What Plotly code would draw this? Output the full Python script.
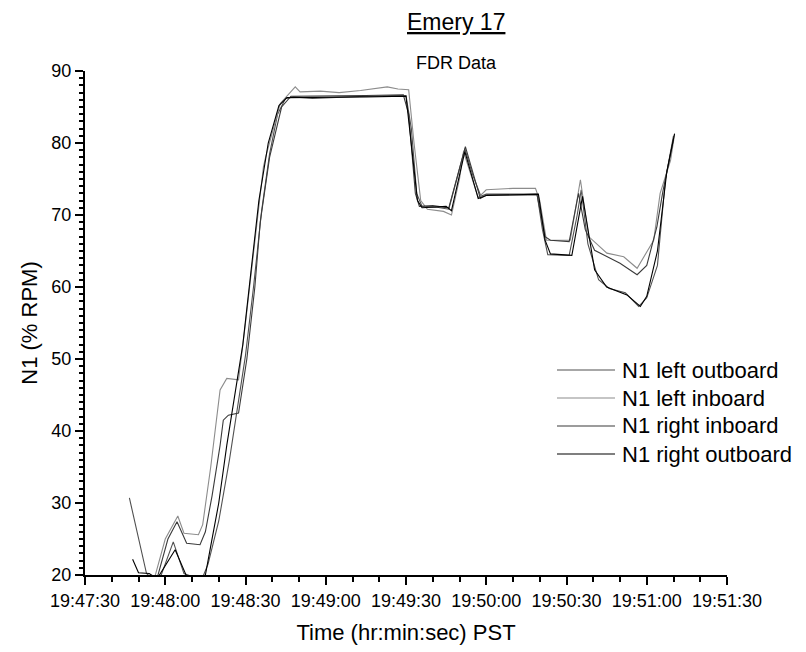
import plotly.graph_objects as go

DAY = "2009-01-01 "

names = ["N1 left outboard", "N1 left inboard", "N1 right inboard", "N1 right outboard"]
colors = ["#505050", "#8c8c8c", "#3a3a3a", "#000000"]

t_lo = ["19:47:46.6", "19:47:53", "19:47:55", "19:47:58", "19:48:03", "19:48:07", "19:48:10", "19:48:14",
        "19:48:16", "19:48:20", "19:48:24", "19:48:27", "19:48:30", "19:48:33", "19:48:36", "19:48:39",
        "19:48:42", "19:48:45", "19:48:48", "19:48:55", "19:49:05", "19:49:15", "19:49:25", "19:49:30",
        "19:49:32", "19:49:34", "19:49:36", "19:49:41", "19:49:46", "19:49:49", "19:49:52", "19:49:55",
        "19:49:58", "19:50:00", "19:50:10", "19:50:19", "19:50:21", "19:50:23", "19:50:31", "19:50:34",
        "19:50:35.5", "19:50:38", "19:50:42", "19:50:46", "19:50:52", "19:50:57", "19:51:00", "19:51:04",
        "19:51:07", "19:51:10"]
v_lo = [30.7, 20.2, 19.6, 19.5, 24.6, 20.2, 19.8, 19.7,
        21.5, 27.5, 36, 43.5, 50.5, 60, 70.5, 78.5,
        84, 86.2, 86.4, 86.2, 86.4, 86.5, 86.6, 86.6,
        82, 73, 71.2, 71.1, 70.8, 75, 79.2, 75.5,
        72.6, 72.9, 72.9, 72.9, 68, 64.5, 64.4, 70,
        73.5, 66, 61, 59.8, 59.2, 57.3, 58.5, 63,
        75, 81]

t_li = ["19:47:56", "19:48:00", "19:48:04.7", "19:48:07", "19:48:12.4", "19:48:14", "19:48:17", "19:48:20.5",
        "19:48:23", "19:48:27.4", "19:48:30", "19:48:33.5", "19:48:36.7", "19:48:37.5", "19:48:40", "19:48:43",
        "19:48:48.6", "19:48:50.4", "19:48:58", "19:49:05", "19:49:13", "19:49:23", "19:49:27", "19:49:31",
        "19:49:33", "19:49:35.5", "19:49:38", "19:49:44", "19:49:47", "19:49:50", "19:49:51.5", "19:49:54",
        "19:49:57", "19:50:00", "19:50:10", "19:50:18.4", "19:50:20", "19:50:22.5", "19:50:31.4", "19:50:35.2",
        "19:50:38.3", "19:50:45.1", "19:50:51.4", "19:50:56.4", "19:51:02.6", "19:51:05", "19:51:08.9", "19:51:10.4"]
v_li = [19.6, 25, 28.2, 25.8, 25.6, 27, 35, 45.7,
        47.3, 47.1, 55, 66, 76.7, 78, 81.5, 85.5,
        87.8, 87.1, 87.2, 87.0, 87.3, 87.8, 87.5, 87.4,
        80, 72, 70.8, 70.5, 70.0, 75, 78.8, 76,
        72.4, 73.5, 73.7, 73.7, 72, 66.5, 66.5, 74.9,
        67, 64.7, 64.2, 62.6, 66.5, 73, 77.6, 81.2]

t_ri = ["19:47:57", "19:48:01", "19:48:04.4", "19:48:08", "19:48:13", "19:48:15", "19:48:17.5", "19:48:20.5",
        "19:48:21.7", "19:48:23.6", "19:48:27.4", "19:48:30.5", "19:48:33.5", "19:48:35.5", "19:48:39", "19:48:43.5",
        "19:48:47", "19:49:00", "19:49:15", "19:49:29", "19:49:31", "19:49:33.5", "19:49:35", "19:49:40",
        "19:49:46", "19:49:52.2", "19:49:57.8", "19:50:00.3", "19:50:19", "19:50:22", "19:50:24", "19:50:31",
        "19:50:34.5", "19:50:37", "19:50:40.5", "19:50:50", "19:50:56.4", "19:51:00", "19:51:03.8", "19:51:06",
        "19:51:10"]
v_ri = [19.6, 25, 27.4, 24.4, 24.2, 26, 31, 38,
        41.5, 42.2, 42.5, 50, 60, 69, 78, 85,
        86.5, 86.5, 86.6, 86.7, 84, 73, 71.2, 71.3,
        71, 79.5, 72.3, 72.8, 72.8, 67, 66.5, 66.3,
        73, 68, 65.1, 63.3, 61.7, 63, 68.4, 73.2,
        80.5]

t_ro = ["19:47:47.8", "19:47:50", "19:47:54", "19:47:57", "19:48:03.7", "19:48:08", "19:48:14", "19:48:15",
        "19:48:17", "19:48:20", "19:48:23", "19:48:26", "19:48:29", "19:48:32", "19:48:35", "19:48:38.5",
        "19:48:42.5", "19:48:45.5", "19:49:00", "19:49:15", "19:49:30", "19:49:32", "19:49:34.3", "19:49:36",
        "19:49:45", "19:49:47", "19:49:52", "19:49:57", "19:50:00", "19:50:19.5", "19:50:22", "19:50:24",
        "19:50:32", "19:50:36", "19:50:40.5", "19:50:45", "19:50:52.6", "19:50:57.6", "19:51:00", "19:51:04",
        "19:51:07.5", "19:51:10.4"]
v_ro = [22.2, 20.3, 20.2, 19.5, 23.5, 19.8, 19.8, 20,
        24, 30, 38, 45, 52, 62, 72, 80,
        85.2, 86.3, 86.4, 86.4, 86.5, 80, 72, 71,
        71.2, 70.6, 78.8, 72.3, 72.7, 72.9, 66.5, 64.6,
        64.4, 72.6, 62.4, 60, 58.9, 57.3, 58.7, 65,
        76, 81.3]

x_ticks = ["19:47:30", "19:48:00", "19:48:30", "19:49:00", "19:49:30",
           "19:50:00", "19:50:30", "19:51:00", "19:51:30"]

series = [(t_lo, v_lo), (t_li, v_li), (t_ri, v_ri), (t_ro, v_ro)]

FONT = "Liberation Sans, Arial, sans-serif"

# plot-area geometry (pixels)
W, H = 806, 652
L, R, T, B = 85, 79, 71, 77
PW, PH = W - L - R, H - T - B


def px(x):
    return (x - L) / PW


def py(y):
    return (H - B - y) / PH


fig = go.Figure()
for i, (ts, vs) in enumerate(series):
    fig.add_trace(go.Scatter(
        x=[DAY + t for t in ts], y=vs, mode="lines", name=names[i],
        line=dict(color=colors[i], width=1.1),
        showlegend=False,
    ))

# custom legend (long line samples like the original)
shapes = []
annotations = [
    dict(text="<u>Emery 17</u>", xref="paper", yref="paper", x=px(456), y=py(22),
         xanchor="center", yanchor="middle", showarrow=False,
         font=dict(size=23, family=FONT)),
    dict(text="FDR Data", xref="paper", yref="paper", x=px(457), y=py(63),
         xanchor="center", yanchor="middle", showarrow=False,
         font=dict(size=18, family=FONT)),
]
for i, nm in enumerate(names):
    yrow = 370 + 28 * i
    shapes.append(dict(type="line", xref="paper", yref="paper",
                       x0=px(557), x1=px(615), y0=py(yrow), y1=py(yrow),
                       line=dict(color=colors[i], width=1.2)))
    annotations.append(dict(text=nm, xref="paper", yref="paper", x=px(620), y=py(yrow),
                            xanchor="left", yanchor="middle", showarrow=False,
                            font=dict(size=22, family=FONT)))

fig.update_layout(
    width=W, height=H,
    margin=dict(l=L, r=R, t=T, b=B),
    paper_bgcolor="white", plot_bgcolor="white",
    font=dict(family=FONT, color="black", size=18),
    showlegend=False,
    shapes=shapes,
    annotations=annotations,
)

fig.update_xaxes(
    type="date",
    range=[DAY + x_ticks[0], DAY + x_ticks[-1]],
    tickvals=[DAY + t for t in x_ticks], ticktext=x_ticks,
    ticks="outside", ticklen=8, tickwidth=2, tickcolor="black",
    minor=dict(dtick=10000, ticks="outside", ticklen=5, tickwidth=2, tickcolor="black"),
    showline=True, linecolor="black", linewidth=2,
    showgrid=False, zeroline=False,
    tickfont=dict(size=18, family=FONT),
    title=dict(text="Time (hr:min:sec) PST", font=dict(size=22, family=FONT), standoff=15),
)
fig.update_yaxes(
    range=[20, 90], dtick=10, tick0=20,
    ticks="outside", ticklen=8, tickwidth=2, tickcolor="black",
    minor=dict(dtick=1, ticks="outside", ticklen=4, tickwidth=2, tickcolor="black"),
    showline=True, linecolor="black", linewidth=2,
    showgrid=False, zeroline=False,
    tickfont=dict(size=18, family=FONT),
    title=dict(text="N1 (% RPM)", font=dict(size=22, family=FONT), standoff=8),
)

fig.write_html("out.html")
